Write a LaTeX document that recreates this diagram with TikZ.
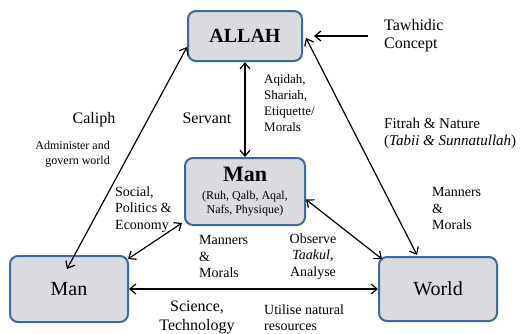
\documentclass[tikz,border=0pt]{standalone}
\usepackage{fontspec}
\setmainfont{Liberation Serif}
\usepackage{tikz}
\usetikzlibrary{arrows.meta, positioning}
\definecolor{boxfill}{HTML}{D9DBE1}
\definecolor{boxedge}{HTML}{41689A}

\begin{document}
\begin{tikzpicture}[x=1pt, y=-1pt,
  entity/.style={draw=boxedge, fill=boxfill, line width=2pt, rounded corners=8pt, inner sep=0pt},
  link/.style={line width=1.2pt, {Straight Barb[length=6pt,width=10pt]}-{Straight Barb[length=6pt,width=10pt]}},
  lbl/.style={inner sep=0pt, align=left, anchor=west}
]
\useasboundingbox[fill=white] (0,0) rectangle (531,333);

% the four boxes
\node[entity, minimum width=114pt, minimum height=50pt] (allah) at (245,36)
  {\fontsize{20}{22}\selectfont\bfseries ALLAH};
\node[entity, minimum width=120pt, minimum height=67pt, align=center,
  font=\fontsize{12}{14}\selectfont] (manc) at (245,191.5)
  {{\fontsize{22}{24}\selectfont\bfseries Man}\\[4pt](Ruh, Qalb, Aqal,\\Nafs, Physique)};
\node[entity, minimum width=118pt, minimum height=66pt] (manl) at (69,289)
  {\fontsize{20}{22}\selectfont Man};
\node[entity, minimum width=118pt, minimum height=64pt] (world) at (438,289)
  {\fontsize{20}{22}\selectfont World};

% labels
\node[lbl, font=\fontsize{16}{18}\selectfont] (tawhidic) at (384,36) {Tawhidic\\Concept};
\node[inner sep=0pt, font=\fontsize{16}{18}\selectfont] (caliph) at (94,120) {Caliph};
\node[inner sep=0pt, align=right, anchor=east, font=\fontsize{12}{15}\selectfont] (admin) at (110,154.5)
  {Administer and\\govern world};
\node[inner sep=0pt, font=\fontsize{16}{18}\selectfont] (servant) at (207,118) {Servant};
\node[lbl, font=\fontsize{13}{16}\selectfont] (aqidah) at (264,103.5)
  {Aqidah,\\Shariah,\\Etiquette/\\Morals};
\node[lbl, font=\fontsize{15}{17}\selectfont] (fitrah) at (384,133.5)
  {Fitrah \& Nature\\(\textit{Tabii \& Sunnatullah})};
\node[lbl, font=\fontsize{14}{16.5}\selectfont] (social) at (115,209.5)
  {Social,\\Politics \&\\Economy};
\node[lbl, font=\fontsize{14}{16.5}\selectfont] (mannersl) at (199,256.5)
  {Manners\\\&\\Morals};
\node[inner sep=0pt, align=center, font=\fontsize{14}{16.5}\selectfont] (observe) at (313,256.5)
  {Observe\\\textit{Taakul},\\Analyse};
\node[lbl, font=\fontsize{14}{16.5}\selectfont] (mannersr) at (432,208.5)
  {Manners\\\&\\Morals};
\node[inner sep=0pt, align=center, font=\fontsize{16}{19}\selectfont] (science) at (197,317)
  {Science,\\Technology};
\node[lbl, font=\fontsize{14}{16}\selectfont] (utilise) at (264,318)
  {Utilise natural\\resources};

% connectors
\draw[line width=1.2pt, -{Straight Barb[length=6pt,width=10pt]}, shorten <=16pt, shorten >=11pt]
  (tawhidic.west) -- (allah.east);
\draw[link] (allah) -- (manc);
\draw[link] ([shift={(-2,14)}]manl.north) -- ([shift={(0,11)}]allah.west);
\draw[link] ([shift={(3,2)}]allah.east) -- ([shift={(-21,-1)}]world.north);
\draw[link] ([shift={(0,8)}]manc.east) -- ([shift={(4,3)}]world.north west);
\draw[link] ([shift={(-2,-3)}]manc.south west) -- ([shift={(-1,4)}]manl.north east);
\draw[link] (manl) -- (world);
\end{tikzpicture}
\end{document}
